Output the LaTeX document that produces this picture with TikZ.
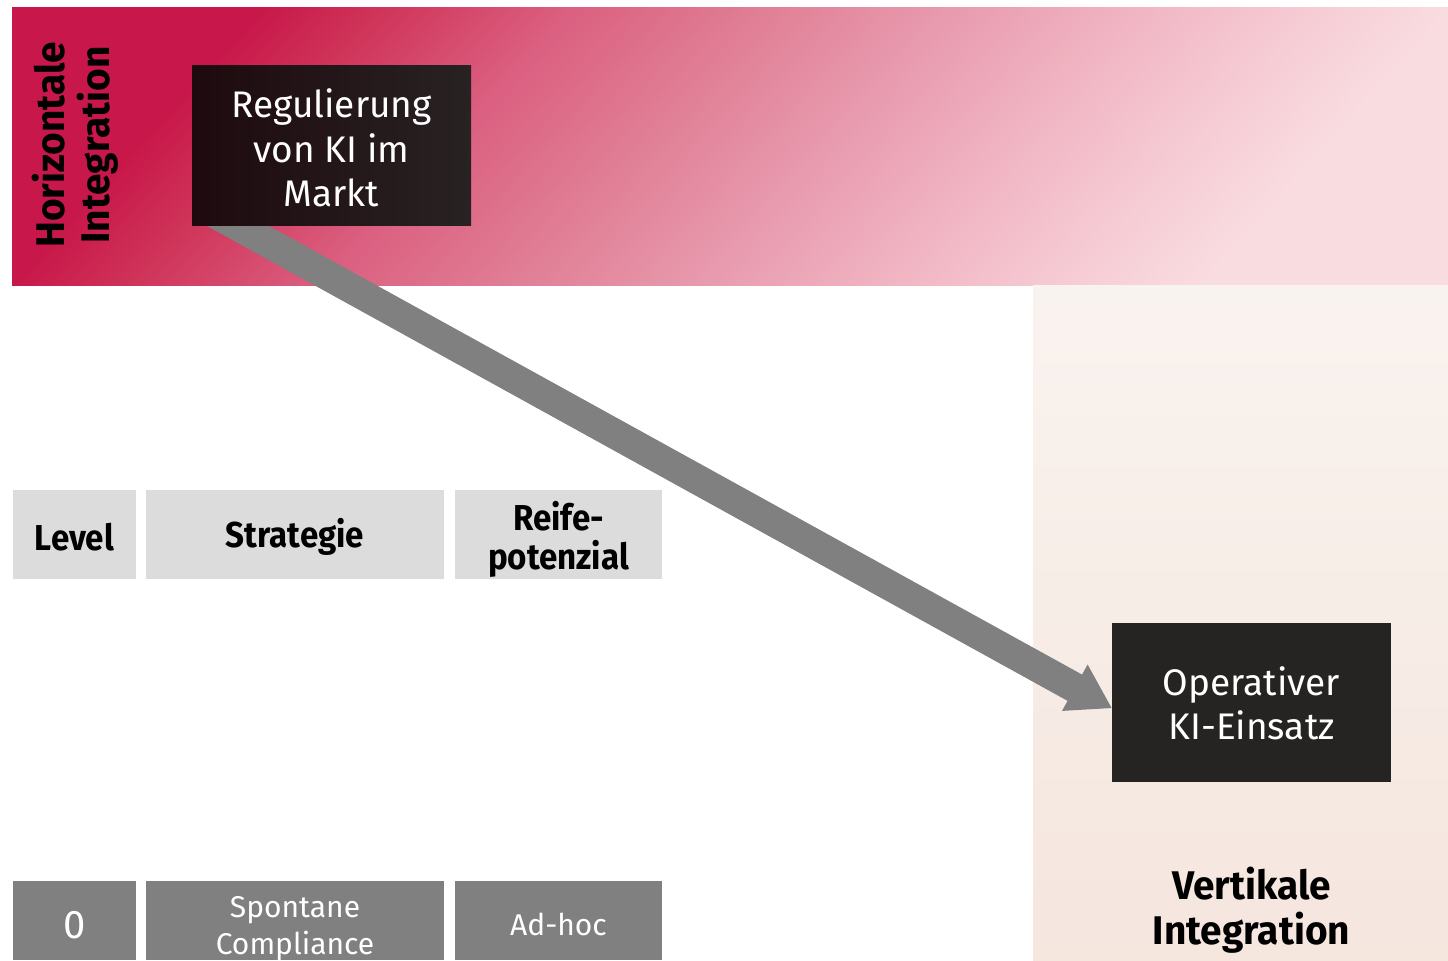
\documentclass[tikz,border=0pt]{standalone}
\usepackage{fontspec}
\setmainfont{Fira Sans}
\newfontfamily\headfont{Fira Sans}[FakeStretch=0.92]
\newfontfamily\axisfont{Fira Sans}[FakeStretch=0.97]
\newcommand\tightlines{\lineskiplimit=-20pt\relax\lineskip=0pt\relax}
\usetikzlibrary{calc}

\definecolor{bandA}{HTML}{C8174A}
\definecolor{bandB}{HTML}{CF3358}
\definecolor{bandC}{HTML}{DB5F80}
\definecolor{bandD}{HTML}{E07E95}
\definecolor{bandE}{HTML}{E89AAE}
\definecolor{bandF}{HTML}{F0B2C0}
\definecolor{bandG}{HTML}{F5C8D2}
\definecolor{bandH}{HTML}{F9DCE0}
\definecolor{sideA}{HTML}{F9F3EF}
\definecolor{sideB}{HTML}{F5E6DE}
\definecolor{boxA}{HTML}{1E0A0E}
\definecolor{boxB}{HTML}{282223}
\definecolor{boxC}{HTML}{252423}
\definecolor{cellLight}{HTML}{DCDCDC}
\definecolor{cellDark}{HTML}{808080}
\definecolor{arrowgray}{HTML}{808080}

% crimson-to-rose ramp for the horizontal-integration band
\pgfdeclarehorizontalshading{bandshade}{100bp}{%
  color(0bp)=(bandA); color(25bp)=(bandA); color(30bp)=(bandB);
  color(38bp)=(bandC); color(46bp)=(bandD); color(54bp)=(bandE);
  color(61bp)=(bandF); color(68bp)=(bandG); color(75bp)=(bandH);
  color(100bp)=(bandH)}

\pgfdeclarelayer{back}
\pgfdeclarelayer{mid}
\pgfsetlayers{back,mid,main}

\tikzset{
  darkbox/.style={inner sep=0pt, minimum width=139.5pt, minimum height=80pt},
  boxtext/.style={inner sep=0pt, text=white, align=center,
    font=\fontsize{18.5pt}{22.25pt}\selectfont},
  headcell/.style={fill=cellLight, inner sep=0pt, minimum height=44.5pt},
  headtext/.style={inner sep=0pt, align=center,
    font=\headfont\bfseries\fontsize{18pt}{19.5pt}\selectfont},
  valcell/.style={fill=cellDark, inner sep=0pt, minimum height=39.5pt},
  valtext/.style={inner sep=0pt, text=white, align=center,
    font=\fontsize{15pt}{18.5pt}\selectfont\tightlines},
  axislabel/.style={align=center, inner sep=0pt,
    font=\axisfont\bfseries\fontsize{20pt}{22.5pt}\selectfont},
  shaft/.style={draw=arrowgray, line width=15pt},
}

\begin{document}
\begin{tikzpicture}[x=0.5pt,y=-0.5pt]
\useasboundingbox (0,0) rectangle (1448,960);

% coloured bands
\begin{pgfonlayer}{back}
  \shade[shading=bandshade, shading angle=-42] (12,7) rectangle (1448,285);
  \shade[top color=sideA, bottom color=sideB] (1033,285) rectangle (1448,960);
\end{pgfonlayer}

% dark boxes
\node[darkbox, left color=boxA, right color=boxB] (reg) at (331.5,145) {};
\node[boxtext] (regt) at (331.5,148) {Regulierung\\von KI im\\Markt};
\node[darkbox, fill=boxC, minimum height=79.5pt] (op) at (1251.5,702.5) {};
\node[boxtext] (opt) at (1251.5,703.5) {Operativer\\KI-Einsatz};

% axis labels
\node[axislabel, rotate=90] (hor) at (75,145) {Horizontale\\Integration};
\node[axislabel] (ver) at (1251.5,910) {Vertikale\\Integration};

% table header row
\node[headcell, minimum width=61.5pt] (lvl) at (74.5,534.5) {};
\node[headcell, minimum width=149pt] (str) at (295,534.5) {};
\node[headcell, minimum width=103.5pt] (rfp) at (558.5,534.5) {};
\node[headtext] (lvlt) at (74.5,537) {Level};
\node[headtext] (strt) at (295,537) {Strategie};
\node[headtext] (rfpt) at (558.5,539.5) {Reife-\\potenzial};

% table value row
\node[valcell, minimum width=61.5pt] (v0) at (74.5,920.5) {};
\node[valcell, minimum width=149pt] (v1) at (295,920.5) {};
\node[valcell, minimum width=103.5pt] (v2) at (558.5,920.5) {};
\node[valtext, font=\fontsize{20pt}{22pt}\selectfont] (v0t) at (74.5,925) {0};
\node[valtext] (v1t) at (295,928.5) {Spontane\\Compliance};
\node[valtext] (v2t) at (558.5,924.5) {Ad-hoc};

% arrow from regulation to operational use
\coordinate (tail) at (200,205);
\coordinate (tip) at ([yshift=-2.75pt]op.west);
\coordinate (hb) at ($(tip)!21pt!(tail)$);
\begin{pgfonlayer}{mid}
  \draw[shaft] (tail) -- ($(tip)!19pt!(tail)$);
  \fill[arrowgray] (tip) -- ($(hb)!13.25pt!90:(tip)$) -- ($(hb)!13.25pt!-90:(tip)$) -- cycle;
\end{pgfonlayer}
\end{tikzpicture}
\end{document}
